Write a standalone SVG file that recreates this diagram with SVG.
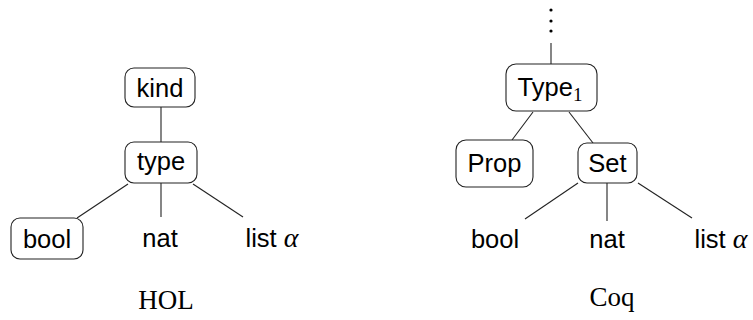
<svg xmlns="http://www.w3.org/2000/svg" width="753" height="320" viewBox="0 0 753 320">
<style>
.box{fill:#fff;stroke:#222;stroke-width:1.1}
.lbl{font-family:"Liberation Sans",Arial,sans-serif;font-size:25.5px;fill:#000;text-anchor:middle}
.cap{font-family:"Liberation Serif",serif;font-size:27px;fill:#000;text-anchor:middle}
.math{font-family:"Liberation Serif",serif;font-style:italic;font-size:28px}
.edge{stroke:#222;stroke-width:1.1;fill:none}
</style>
<rect width="753" height="320" fill="#fff"/>
<g id="connectors">
<line class="edge" x1="161" y1="107" x2="161" y2="142"/>
<line class="edge" x1="128" y1="184" x2="77" y2="218"/>
<line class="edge" x1="161" y1="183" x2="161" y2="217"/>
<line class="edge" x1="193" y1="184" x2="243" y2="217"/>
<line class="edge" x1="551" y1="43" x2="551" y2="64"/>
<line class="edge" x1="533" y1="112" x2="512" y2="140"/>
<line class="edge" x1="569" y1="112" x2="593" y2="143"/>
<line class="edge" x1="578" y1="183" x2="525" y2="219"/>
<line class="edge" x1="607" y1="183" x2="607" y2="221"/>
<line class="edge" x1="638" y1="183" x2="692" y2="218"/>
</g>
<g id="dots" fill="#000">
<circle cx="551" cy="10" r="1.6"/>
<circle cx="551" cy="21" r="1.6"/>
<circle cx="551" cy="31" r="1.6"/>
</g>
<g id="hol-kind"><rect class="box" x="125" y="68" width="70" height="39" rx="9"/><text class="lbl" x="160" y="97">kind</text></g>
<g id="hol-type"><rect class="box" x="125" y="142" width="72" height="41" rx="9"/><text class="lbl" x="161" y="170">type</text></g>
<g id="hol-bool"><rect class="box" x="11" y="218" width="72" height="41" rx="9"/><text class="lbl" x="47" y="248">bool</text></g>
<g id="hol-nat"><text class="lbl" x="160" y="247">nat</text></g>
<g id="hol-list"><text class="lbl" x="272" y="247">list <tspan class="math">α</tspan></text></g>
<g id="coq-type1"><rect class="box" x="506" y="64" width="91" height="47" rx="10"/><text class="lbl" x="550" y="96">Type<tspan font-family="Liberation Serif, serif" font-size="19" dy="5">1</tspan></text></g>
<g id="coq-prop"><rect class="box" x="456" y="140" width="77" height="47" rx="10"/><text class="lbl" x="494.5" y="172">Prop</text></g>
<g id="coq-set"><rect class="box" x="578" y="143" width="59" height="40" rx="9"/><text class="lbl" x="607.5" y="172">Set</text></g>
<g id="coq-bool"><text class="lbl" x="495" y="248">bool</text></g>
<g id="coq-nat"><text class="lbl" x="607" y="248">nat</text></g>
<g id="coq-list"><text class="lbl" x="721" y="248">list <tspan class="math">α</tspan></text></g>
<text class="cap" x="166" y="309">HOL</text>
<text class="cap" x="612" y="306">Coq</text>
</svg>
